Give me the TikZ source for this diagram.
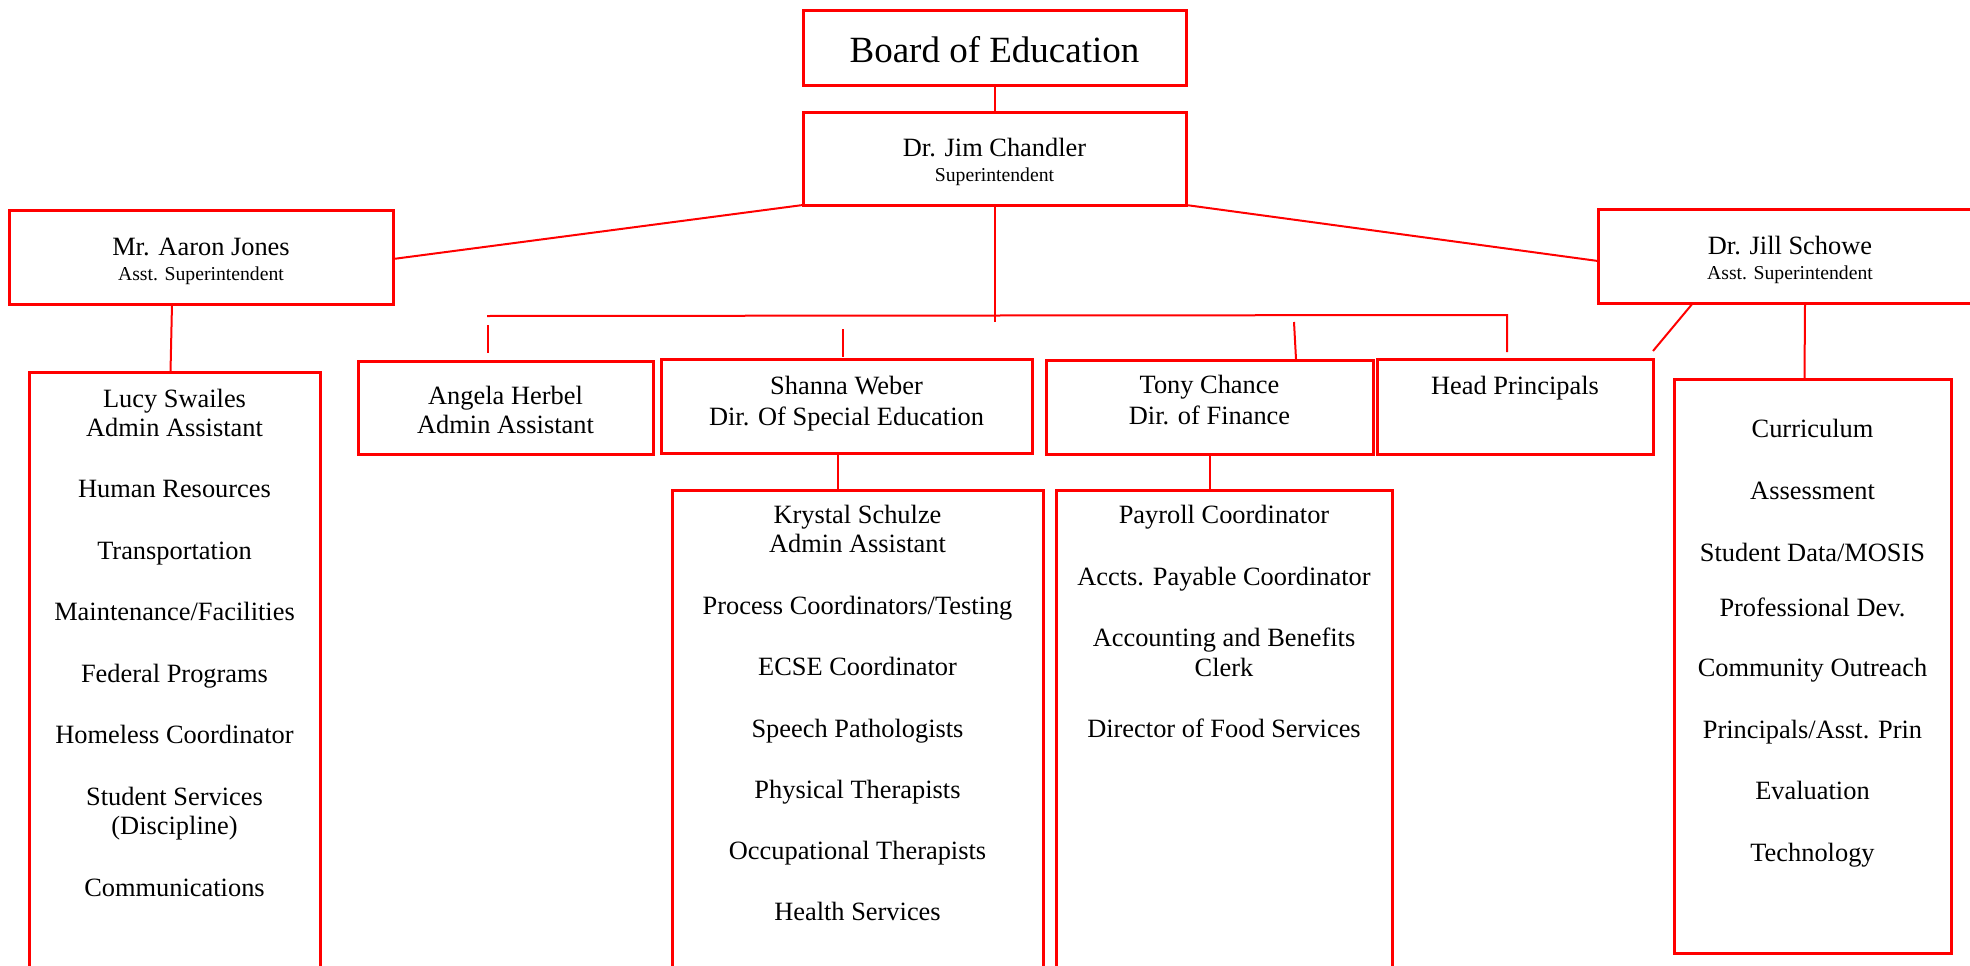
\documentclass[tikz,border=0pt]{standalone}
\usepackage{fontspec}
\setmainfont{Liberation Serif}
\begin{document}
\begin{tikzpicture}[x=1pt,y=-1pt,
  box/.style={draw=red, line width=3pt, rectangle, inner sep=0pt, outer sep=0pt},
  conn/.style={draw=red, line width=2pt},
  txt/.style={inner sep=0pt, anchor=base, yshift=-2.5pt, font=\fontsize{26.4}{29}\selectfont},
  sub/.style={inner sep=0pt, anchor=base, yshift=-1.5pt, font=\fontsize{19.7}{22}\selectfont},
  big/.style={inner sep=0pt, anchor=base, yshift=-2pt, font=\fontsize{37}{40}\selectfont}]
\useasboundingbox (0,0) rectangle (1970,966);
\fill[white] (0,0) rectangle (1970,966);

% boxes
\node[box, minimum width=383pt, minimum height=74pt] (board) at (994.5,48) {};
\node[box, minimum width=383pt, minimum height=93pt] (chandler) at (994.5,158.5) {};
\node[box, minimum width=384pt, minimum height=94pt] (jones) at (201,257) {};
\node[box, minimum width=384pt, minimum height=94pt] (schowe) at (1790,256) {};
\node[box, minimum width=295pt, minimum height=93pt] (angela) at (505.5,407.5) {};
\node[box, minimum width=371pt, minimum height=94pt] (shanna) at (846.5,406) {};
\node[box, minimum width=327pt, minimum height=94pt] (tony) at (1209.5,407) {};
\node[box, minimum width=276pt, minimum height=95pt] (head) at (1515,406.5) {};
\node[box, minimum width=291pt, minimum height=638pt] (lucy) at (174.5,691) {};
\node[box, minimum width=371pt, minimum height=520pt] (krystal) at (857.5,750) {};
\node[box, minimum width=336pt, minimum height=520pt] (finance) at (1224,750) {};
\node[box, minimum width=277pt, minimum height=574pt] (curric) at (1812.5,666) {};

% bus coordinates
\coordinate (busL) at (487,316);
\coordinate (busR) at (1507,315);
\coordinate (busC) at (994.5,322);
\coordinate (tA1) at (488,325);
\coordinate (tA2) at (488,353);
\coordinate (tS1) at (843,329);
\coordinate (tS2) at (843,357);
\coordinate (tT1) at (1294,322);
\coordinate (tT2) at (1296,359);
\coordinate (tH2) at (1507,352);

% connectors
\draw[conn] (board.south) -- (chandler.north);
\draw[conn] (chandler.south west) -- ([yshift=-2pt]jones.east);
\draw[conn] (chandler.south east) -- ([yshift=-5pt]schowe.west);
\draw[conn] (chandler.south) -- (busC);
\draw[conn] (busL) -- (busR) -- (tH2);
\draw[conn] (tA1) -- (tA2);
\draw[conn] (tS1) -- (tS2);
\draw[conn] (tT1) -- (tT2);
\draw[conn] ([xshift=-29pt]jones.south) -- ([xshift=-4pt]lucy.north);
\draw[conn] ([xshift=-97pt]schowe.south) -- ([yshift=8pt]head.north east);
\draw[conn] ([xshift=15pt]schowe.south) -- ([xshift=-8pt]curric.north);
\draw[conn] ([xshift=-8.5pt]shanna.south) -- ([xshift=-19.5pt]krystal.north);
\draw[conn] (tony.south) -- (tony.south |- finance.north);

% texts top
\node[big] (tboard) at (994.5,61) {Board of Education};
\node[txt] (tch1) at (994.5,154) {Dr. Jim Chandler};
\node[sub] (tch2) at (994.5,180) {Superintendent};
\node[txt] (tjo1) at (201,253) {Mr. Aaron Jones};
\node[sub] (tjo2) at (201,279) {Asst. Superintendent};
\node[txt] (tsc1) at (1790,252) {Dr. Jill Schowe};
\node[sub] (tsc2) at (1790,278) {Asst. Superintendent};
\node[txt] (tan1) at (505.5,402) {Angela Herbel};
\node[txt] (tan2) at (505.5,431) {Admin Assistant};
\node[txt] (tsh1) at (846.5,391.5) {Shanna Weber};
\node[txt] (tsh2) at (846.5,422.5) {Dir. Of Special Education};
\node[txt] (tto1) at (1209.5,391) {Tony Chance};
\node[txt] (tto2) at (1209.5,422) {Dir. of Finance};
\node[txt] (the1) at (1515,392) {Head Principals};

% Lucy column
\node[txt] (tl1) at (174.5,405) {Lucy Swailes};
\node[txt] (tl2) at (174.5,434) {Admin Assistant};
\node[txt] (tl3) at (174.5,495) {Human Resources};
\node[txt] (tl4) at (174.5,556.5) {Transportation};
\node[txt] (tl5) at (174.5,618) {Maintenance/Facilities};
\node[txt] (tl6) at (174.5,679.5) {Federal Programs};
\node[txt] (tl7) at (174.5,741) {Homeless Coordinator};
\node[txt] (tl8) at (174.5,802.5) {Student Services};
\node[txt] (tl9) at (174.5,832) {(Discipline)};
\node[txt] (tl10) at (174.5,894) {Communications};

% Krystal column
\node[txt] (tk1) at (857.5,521) {Krystal Schulze};
\node[txt] (tk2) at (857.5,550) {Admin Assistant};
\node[txt] (tk3) at (857.5,612) {Process Coordinators/Testing};
\node[txt] (tk4) at (857.5,673) {ECSE Coordinator};
\node[txt] (tk5) at (857.5,735) {Speech Pathologists};
\node[txt] (tk6) at (857.5,796) {Physical Therapists};
\node[txt] (tk7) at (857.5,857) {Occupational Therapists};
\node[txt] (tk8) at (857.5,918) {Health Services};

% Finance column
\node[txt] (tf1) at (1224,521) {Payroll Coordinator};
\node[txt] (tf2) at (1224,583) {Accts. Payable Coordinator};
\node[txt] (tf3) at (1224,644) {Accounting and Benefits};
\node[txt] (tf4) at (1224,674) {Clerk};
\node[txt] (tf5) at (1224,735) {Director of Food Services};

% Curriculum column
\node[txt] (tc1) at (1812.5,435) {Curriculum};
\node[txt] (tc2) at (1812.5,497) {Assessment};
\node[txt] (tc3) at (1812.5,559) {Student Data/MOSIS};
\node[txt] (tc4) at (1812.5,614) {Professional Dev.};
\node[txt] (tc5) at (1812.5,674) {Community Outreach};
\node[txt] (tc6) at (1812.5,736) {Principals/Asst. Prin};
\node[txt] (tc7) at (1812.5,797) {Evaluation};
\node[txt] (tc8) at (1812.5,859) {Technology};
\end{tikzpicture}
\end{document}
